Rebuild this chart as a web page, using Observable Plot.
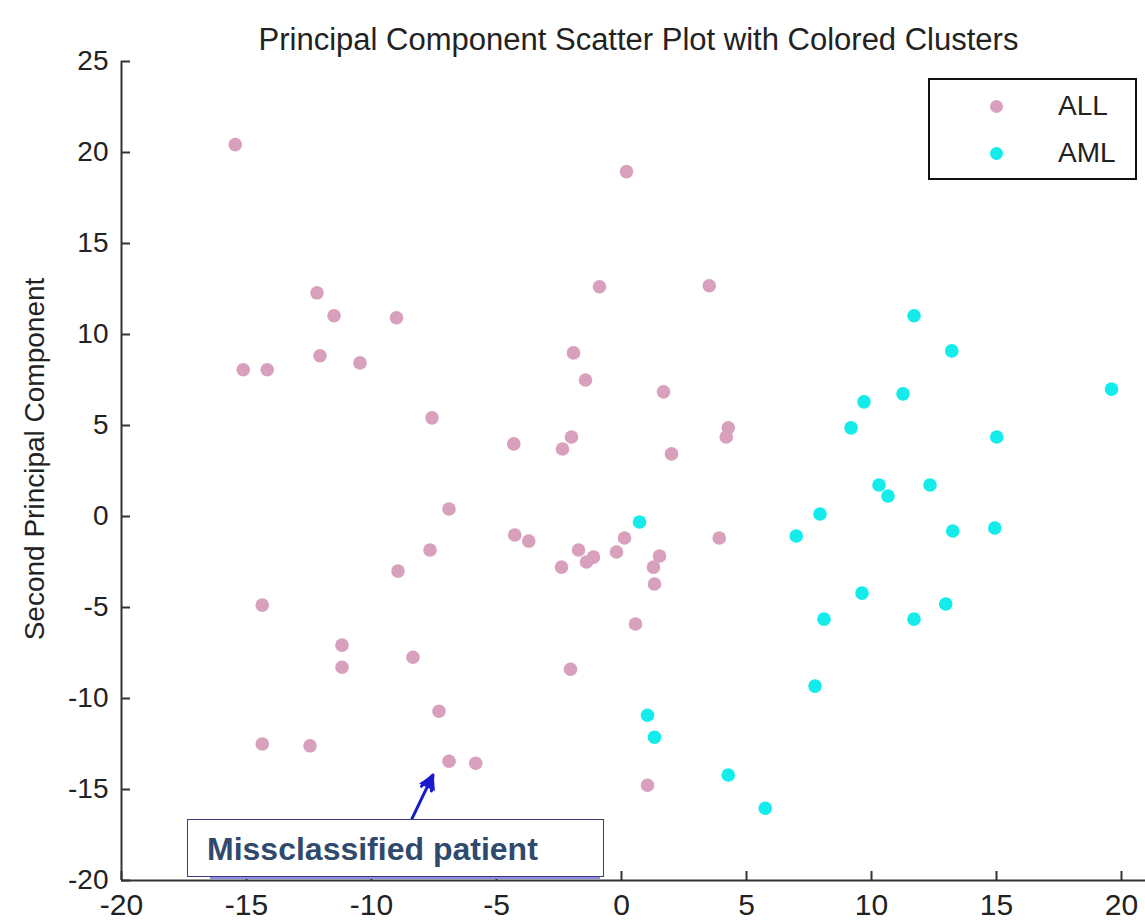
<!DOCTYPE html>
<html>
<head>
<meta charset="utf-8">
<script src="https://cdn.jsdelivr.net/npm/d3@7"></script>
<script src="https://cdn.jsdelivr.net/npm/@observablehq/plot@0.6"></script>
<style>
  html, body { margin: 0; padding: 0; background: #fff; }
  #wrap { position: relative; width: 1145px; height: 921px; overflow: hidden; }
  .legend { position: absolute; left: 928px; top: 78px; width: 209px; height: 102px; border: 2px solid #111; background: #fff; box-sizing: border-box; font-family: "Liberation Sans", Arial, sans-serif; }
  .legend .sw { position: absolute; left: 60px; width: 13px; height: 13px; border-radius: 50%; }
  .legend .lab { position: absolute; left: 128px; font-size: 28px; color: #222; line-height: 30px; }
  .note { position: absolute; left: 187px; top: 819px; width: 417px; height: 58px; border: 1px solid #3b3b7a; background: #fff; box-sizing: border-box; font-family: "Liberation Sans", Arial, sans-serif; font-weight: bold; font-size: 32px; color: #2f4a6d; line-height: 58px; padding-left: 19px; }
  .noteline { position: absolute; left: 210px; top: 876px; width: 390px; height: 3px; background: #8f8fe8; }
</style>
</head>
<body>
<div id="wrap"></div>
<script>
// ---- data ----
const allX = [-15.45, 0.2, -12.18, -11.5, -9.0, -0.88, 3.51, -15.13, -14.17, -12.06, -10.46, -1.92, -1.44, -7.58, -4.31, -2.36, -2.0, 1.68, 4.27, 4.19, 2.0, -6.9, -4.27, -3.71, -7.66, -8.94, -2.4, -1.72, -1.4, -1.12, -0.2, 0.12, 1.52, 1.28, 1.32, 3.91, -14.37, -11.18, -11.18, -8.34, -2.04, 0.56, -14.37, -12.46, -7.3, -6.9, -5.83, 1.04];
const allY = [20.43, 18.95, 12.29, 11.03, 10.92, 12.62, 12.68, 8.06, 8.06, 8.83, 8.44, 8.99, 7.5, 5.42, 3.99, 3.71, 4.37, 6.85, 4.87, 4.37, 3.44, 0.41, -1.02, -1.35, -1.84, -3.0, -2.78, -1.84, -2.5, -2.23, -1.95, -1.18, -2.17, -2.78, -3.71, -1.18, -4.87, -7.07, -8.28, -7.73, -8.39, -5.91, -12.5, -12.6, -10.7, -13.45, -13.56, -14.77];
const amlX = [0.72, 11.7, 13.21, 19.6, 9.7, 11.26, 9.18, 15.01, 10.3, 10.66, 12.34, 7.94, 6.99, 13.25, 14.93, 9.62, 12.97, 8.1, 11.7, 7.74, 1.04, 1.32, 4.27, 5.75];
const amlY = [-0.3, 11.03, 9.1, 7.0, 6.3, 6.74, 4.87, 4.37, 1.73, 1.13, 1.73, 0.14, -1.07, -0.8, -0.63, -4.21, -4.81, -5.64, -5.64, -9.32, -10.92, -12.13, -14.2, -16.03];
const groups = ["ALL", "AML"];
const groupColors = ["#d8a0bc", "#14ecec"];
const xTicks = [-20, -15, -10, -5, 0, 5, 10, 15, 20];
const yTicks = [-20, -15, -10, -5, 0, 5, 10, 15, 20, 25];
const titleText = "Principal Component Scatter Plot with Colored Clusters";
const yLabel = "Second Principal Component";
const noteText = "Missclassified patient";
// annotation arrow: tail -> tip (data units)
const arrowFrom = [-8.38, -16.6];
const arrowTo = [-7.54, -14.2];

const points = [
  ...allX.map((x, i) => ({x, y: allY[i], g: "ALL"})),
  ...amlX.map((x, i) => ({x, y: amlY[i], g: "AML"}))
];

const W = 1145, H = 921, mL = 121, mR = 0, mT = 61, mB = 41;
const xDom = [-20, 20.96], yDom = [-20, 25];
const tickPx = 9;
// inward tick length expressed in data units of each scale
const xTickLen = tickPx * (yDom[1] - yDom[0]) / (H - mT - mB);
const yTickLen = tickPx * (xDom[1] - xDom[0]) / (W - mL - mR);

const font = "'Liberation Sans', Arial, sans-serif";
const headT = 0.82;
const head = [{x: arrowFrom[0] + headT * (arrowTo[0] - arrowFrom[0]), y: arrowFrom[1] + headT * (arrowTo[1] - arrowFrom[1])}];

const chart = Plot.plot({
  width: W,
  height: H,
  marginLeft: mL,
  marginRight: mR,
  marginTop: mT,
  marginBottom: mB,
  style: {fontFamily: font, background: "#fff", color: "#222", overflow: "visible"},
  x: {domain: xDom},
  y: {domain: yDom},
  color: {domain: groups, range: groupColors},
  marks: [
    Plot.axisX({ticks: xTicks, tickSize: 0, tickPadding: 13, fontSize: 30, label: null, tickFormat: d => String(d)}),
    Plot.axisY({ticks: yTicks, tickSize: 0, tickPadding: 13, fontSize: 28, label: null, tickFormat: d => String(d)}),
    Plot.ruleX(xTicks, {x: d => d, y1: yDom[0], y2: yDom[0] + xTickLen, stroke: "#333", strokeWidth: 2}),
    Plot.ruleY(yTicks, {y: d => d, x1: xDom[0], x2: xDom[0] + yTickLen, stroke: "#333", strokeWidth: 2}),
    Plot.ruleX([xDom[0]], {stroke: "#333", strokeWidth: 2}),
    Plot.ruleY([yDom[0]], {stroke: "#333", strokeWidth: 2}),
    Plot.dot(points, {x: "x", y: "y", fill: "g", r: 6.8}),
    Plot.arrow([{x1: arrowFrom[0], y1: arrowFrom[1], x2: arrowTo[0], y2: arrowTo[1]}], {x1: "x1", y1: "y1", x2: "x2", y2: "y2", stroke: "#1a1ad0", strokeWidth: 3, headLength: 16, headAngle: 40}),
    Plot.dot(head, {x: "x", y: "y", symbol: "triangle", r: 6.5, rotate: 26, fill: "#1a1ad0"}),
    Plot.text([titleText], {frameAnchor: "top", dy: -34, dx: 5, fontSize: 31, fill: "#222"}),
    Plot.text([yLabel], {frameAnchor: "left", textAnchor: "middle", dx: -86, dy: -12, rotate: -90, fontSize: 28, fill: "#222"})
  ]
});

const wrap = document.getElementById("wrap");
wrap.appendChild(chart);

// legend
const lg = document.createElement("div");
lg.className = "legend";
groups.forEach((g, i) => {
  const sw = document.createElement("div");
  sw.className = "sw";
  sw.style.background = groupColors[i];
  sw.style.top = (20 + i * 47) + "px";
  lg.appendChild(sw);
  const lab = document.createElement("div");
  lab.className = "lab";
  lab.textContent = g;
  lab.style.top = (11 + i * 47) + "px";
  lg.appendChild(lab);
});
wrap.appendChild(lg);

// annotation box
const nl = document.createElement("div");
nl.className = "noteline";
wrap.appendChild(nl);
const note = document.createElement("div");
note.className = "note";
note.textContent = noteText;
wrap.appendChild(note);
</script>
</body>
</html>
